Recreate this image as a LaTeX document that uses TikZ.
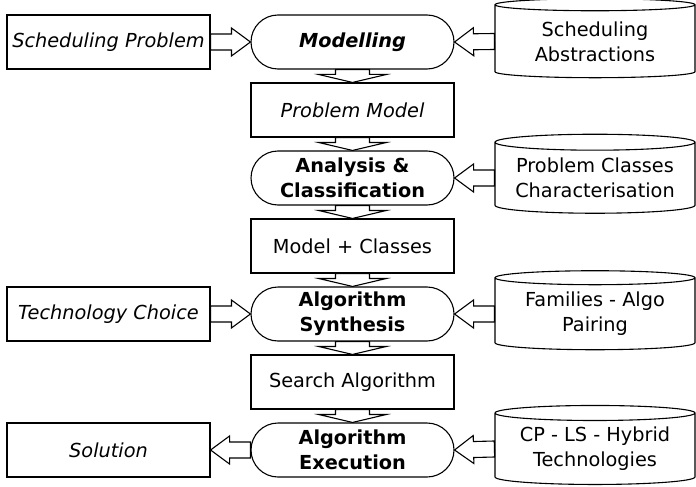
\documentclass[tikz,border=0pt]{standalone}
\usepackage{fontspec}
\setmainfont{DejaVu Sans}[ItalicFont={DejaVu Sans Oblique},BoldFont={DejaVu Sans Bold},BoldItalicFont={DejaVu Sans Bold Oblique}]
\usetikzlibrary{shapes.misc,shapes.geometric,calc}
\tikzset{block/.style={draw,rectangle,line width=1.1pt,minimum width=203pt,minimum height=54pt,inner sep=0pt,align=center}}
\tikzset{task/.style={draw,rounded rectangle,line width=1.1pt,minimum width=203pt,minimum height=54pt,inner sep=0pt,align=center}}
\tikzset{store/.style={draw,cylinder,shape border rotate=90,aspect=0.1,line width=1.1pt,minimum width=200pt,minimum height=79pt,inner sep=0pt,align=center}}
\tikzset{flow/.style={draw,line width=1.1pt,line join=miter}}
% hollow block arrow: shaft half width, head half width, head length, from, to
\newcommand{\fatarrow}[5]{\draw[flow] ($(#4)!#1!90:(#5)$) -- ($(#5)!#3!(#4)!#1!-90:(#4)$) -- ($(#5)!#3!(#4)!#2!-90:(#4)$) -- (#5) -- ($(#5)!#3!(#4)!#2!90:(#4)$) -- ($(#5)!#3!(#4)!#1!90:(#4)$) -- ($(#4)!#1!-90:(#5)$) -- cycle;}

\begin{document}
\fontsize{19.3}{25}\selectfont
\begin{tikzpicture}[x=1pt,y=1pt]
\useasboundingbox (0,0) rectangle (696,-487);

\node[block] (prob) at (108.5,-42) {\textit{Scheduling Problem}};
\node[block] (tech) at (108.5,-314) {\textit{Technology Choice}};
\node[block] (sol) at (108.5,-450) {\textit{Solution}};

\node[task] (model) at (352.5,-42) {\textbf{\textit{Modelling}}};
\node[block] (pmodel) at (352.5,-110) {\textit{Problem Model}};
\node[task] (anal) at (352.5,-178) {\textbf{Analysis \&}\\\textbf{Classification}};
\node[block] (mclass) at (352.5,-246) {Model + Classes};
\node[task] (synth) at (352.5,-314) {\textbf{Algorithm}\\\textbf{Synthesis}};
\node[block] (search) at (352.5,-382) {Search Algorithm};
\node[task] (exec) at (352.5,-450) {\textbf{Algorithm}\\\textbf{Execution}};

\node[store] (abstr) at (595,-41.5) {Scheduling\\Abstractions};
\node[store] (classes) at (595,-178) {Problem Classes\\Characterisation};
\node[store] (pairing) at (595,-314) {Families - Algo\\Pairing};
\node[store] (techno) at (595,-449) {CP - LS - Hybrid\\Technologies};

\fatarrow{8pt}{14pt}{19pt}{prob.east}{model.west}
\fatarrow{8pt}{14pt}{19pt}{abstr.west}{model.east}
\fatarrow{8pt}{14pt}{19pt}{classes.west}{anal.east}
\fatarrow{8pt}{14pt}{19pt}{tech.east}{synth.west}
\fatarrow{8pt}{14pt}{19pt}{pairing.west}{synth.east}
\fatarrow{8pt}{14pt}{19pt}{exec.west}{sol.east}
\fatarrow{8pt}{14pt}{19pt}{techno.west}{exec.east}

\fatarrow{17pt}{34pt}{8pt}{model.south}{pmodel.north}
\fatarrow{17pt}{34pt}{8pt}{pmodel.south}{anal.north}
\fatarrow{17pt}{34pt}{8pt}{anal.south}{mclass.north}
\fatarrow{17pt}{34pt}{8pt}{mclass.south}{synth.north}
\fatarrow{17pt}{34pt}{8pt}{synth.south}{search.north}
\fatarrow{17pt}{34pt}{8pt}{search.south}{exec.north}
\end{tikzpicture}
\end{document}
